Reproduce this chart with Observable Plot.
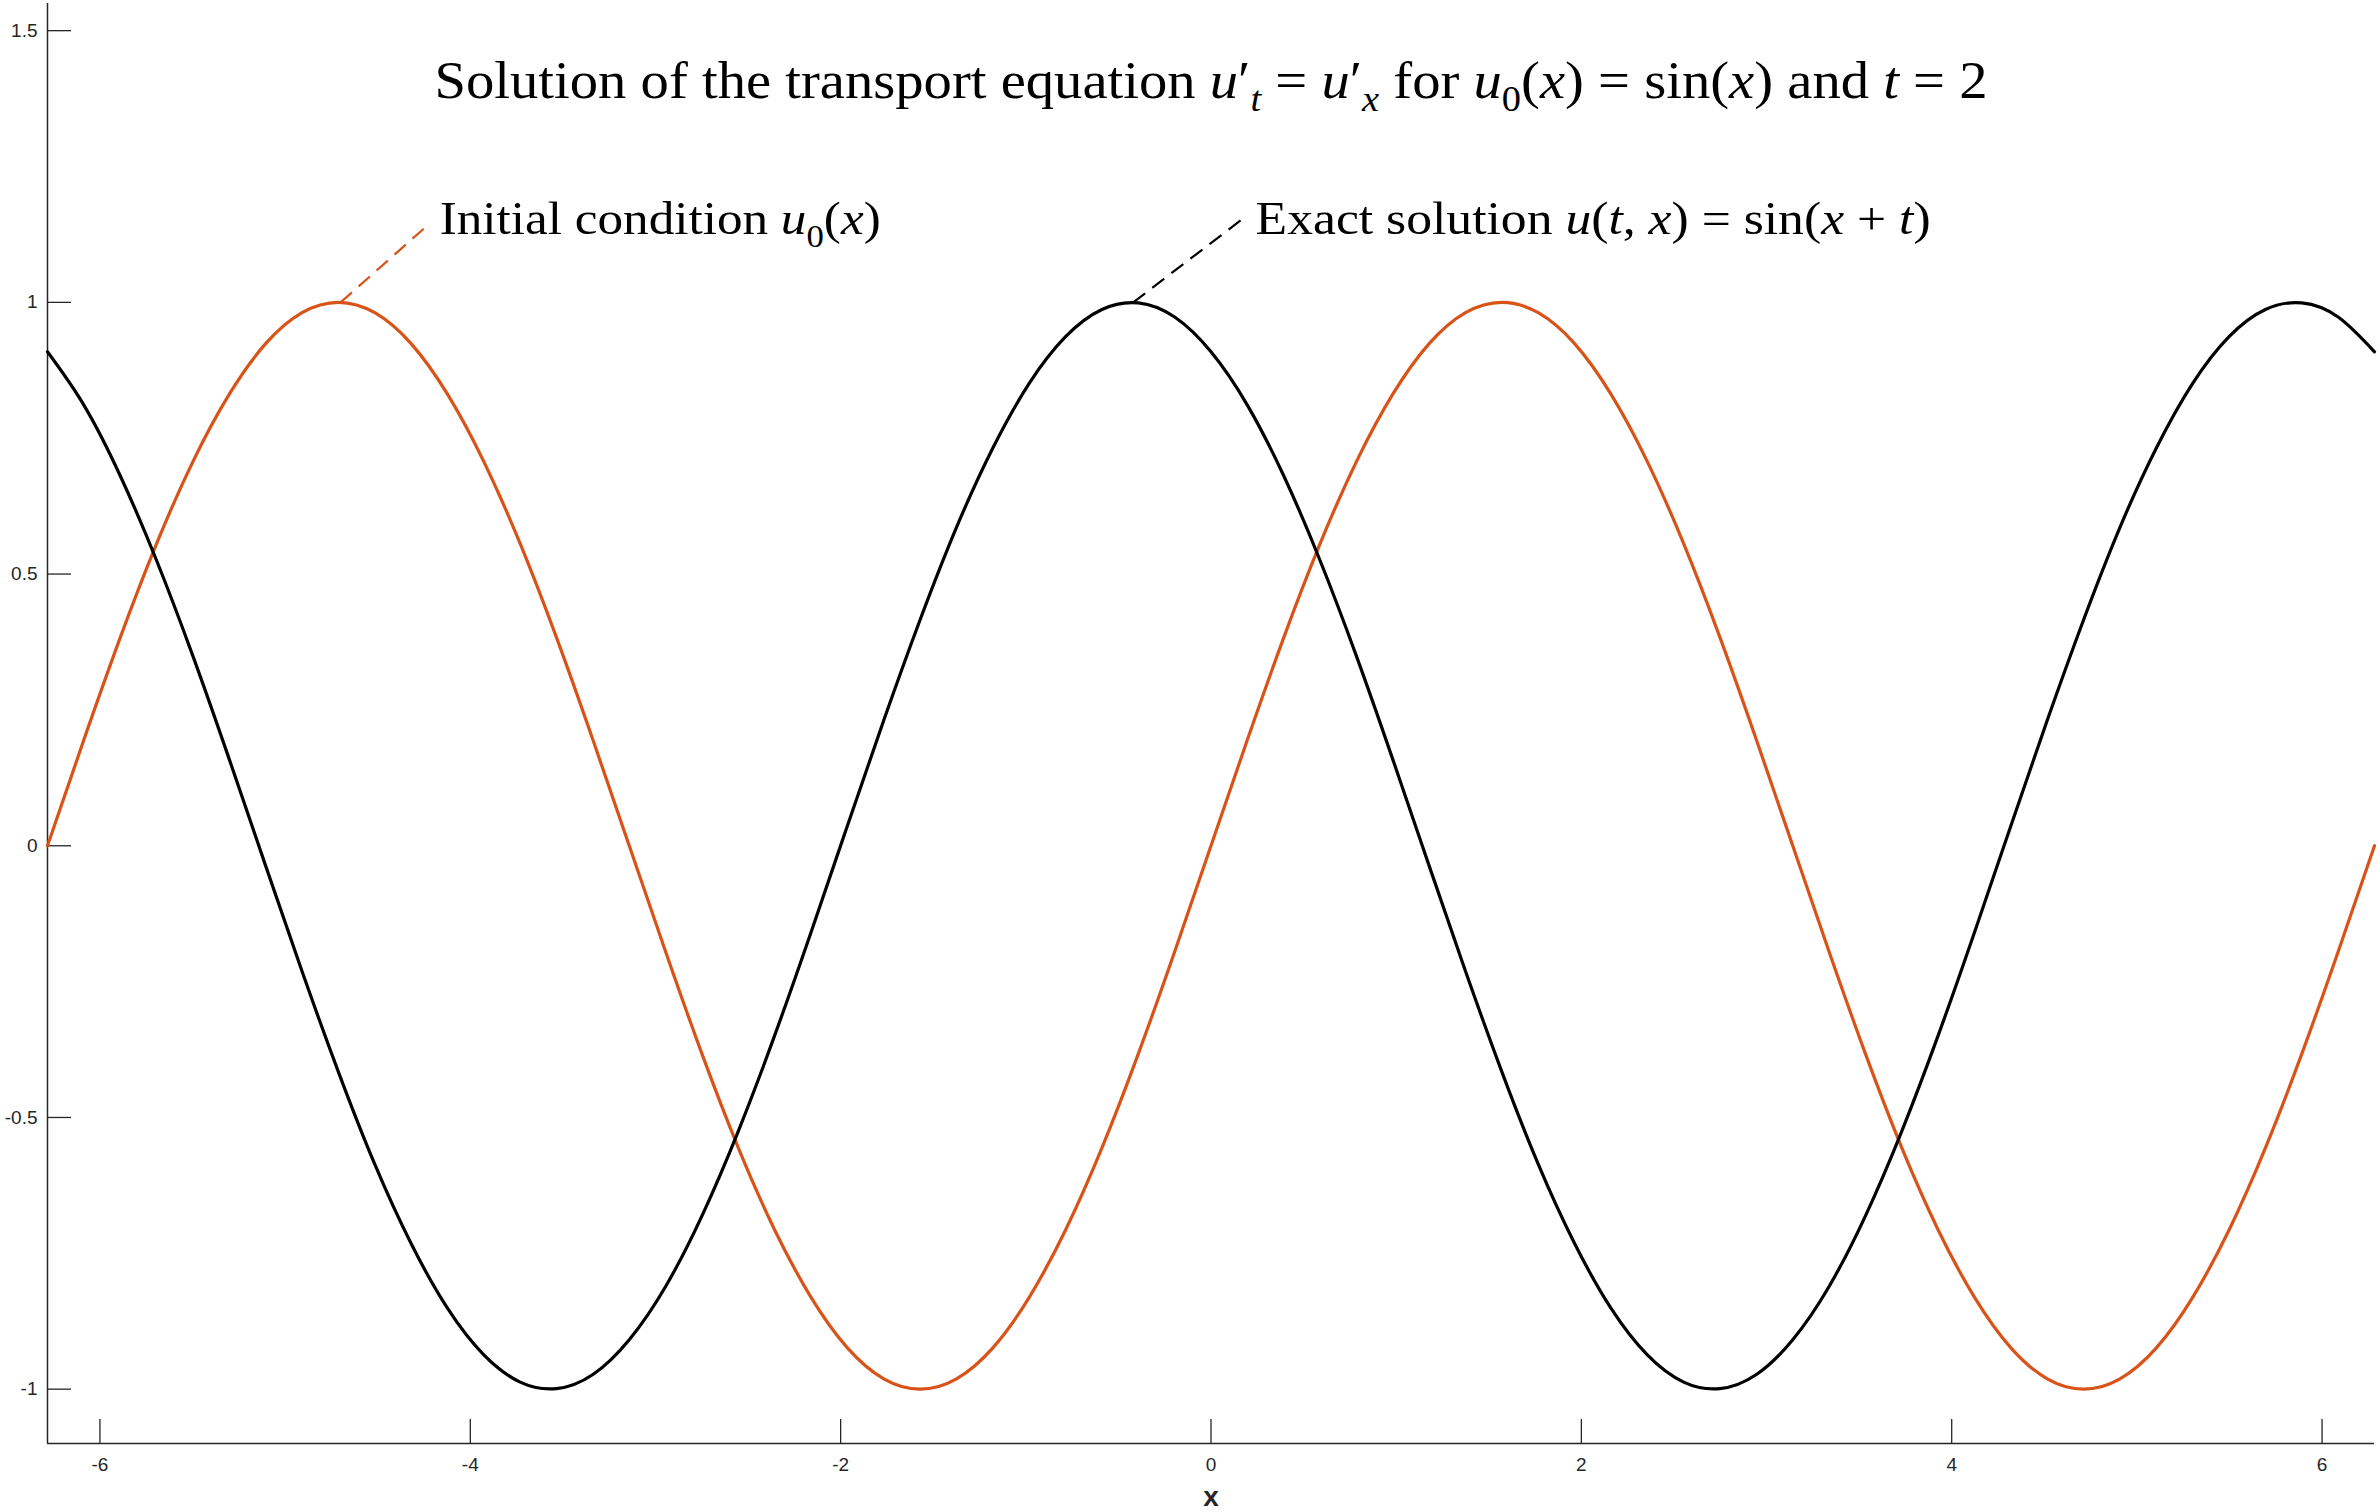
<!DOCTYPE html>
<html>
<head>
<meta charset="utf-8">
<script src="https://cdn.jsdelivr.net/npm/d3@7"></script>
<script src="https://cdn.jsdelivr.net/npm/@observablehq/plot@0.6"></script>
<style>
html, body { margin: 0; padding: 0; background: #fff; overflow: hidden; }
#chart svg { display: block; }
</style>
</head>
<body>
<div id="chart"></div>
<script>
// ---- data ----
const xValues = [-6.2832,-6.0868,-5.8905,-5.6941,-5.4978,-5.3014,-5.1051,-4.9087,-4.7124,-4.5160,-4.3197,-4.1233,-3.9270,-3.7306,-3.5343,-3.3379,-3.1416,-2.9452,-2.7489,-2.5525,-2.3562,-2.1598,-1.9635,-1.7671,-1.5708,-1.3744,-1.1781,-0.9817,-0.7854,-0.5890,-0.3927,-0.1963,0,0.1963,0.3927,0.5890,0.7854,0.9817,1.1781,1.3744,1.5708,1.7671,1.9635,2.1598,2.3562,2.5525,2.7489,2.9452,3.1416,3.3379,3.5343,3.7306,3.9270,4.1233,4.3197,4.5160,4.7124,4.9087,5.1051,5.3014,5.4978,5.6941,5.8905,6.0868,6.2832];
const initialValues = [0,0.195,0.383,0.556,0.707,0.831,0.924,0.981,1,0.981,0.924,0.831,0.707,0.556,0.383,0.195,0,-0.195,-0.383,-0.556,-0.707,-0.831,-0.924,-0.981,-1,-0.981,-0.924,-0.831,-0.707,-0.556,-0.383,-0.195,0,0.195,0.383,0.556,0.707,0.831,0.924,0.981,1,0.981,0.924,0.831,0.707,0.556,0.383,0.195,0,-0.195,-0.383,-0.556,-0.707,-0.831,-0.924,-0.981,-1,-0.981,-0.924,-0.831,-0.707,-0.556,-0.383,-0.195,0];
const exactValues = [0.909,0.811,0.681,0.525,0.349,0.159,-0.037,-0.231,-0.416,-0.586,-0.732,-0.851,-0.937,-0.987,-0.999,-0.973,-0.909,-0.811,-0.681,-0.525,-0.349,-0.159,0.037,0.231,0.416,0.586,0.732,0.851,0.937,0.987,0.999,0.973,0.909,0.811,0.681,0.525,0.349,0.159,-0.037,-0.231,-0.416,-0.586,-0.732,-0.851,-0.937,-0.987,-0.999,-0.973,-0.909,-0.811,-0.681,-0.525,-0.349,-0.159,0.037,0.231,0.416,0.586,0.732,0.851,0.937,0.987,0.999,0.973,0.909];
const xTicks = [-6, -4, -2, 0, 2, 4, 6];
const yTicks = [-1, -0.5, 0, 0.5, 1, 1.5];
const xDomain = [-6.2832, 6.2832];
const yDomain = [-1.1, 1.55];
const xLabel = "x";
const titleText = "Solution of the transport equation u′t = u′x for u0(x) = sin(x) and t = 2";
const labelTexts = ["Initial condition u0(x)", "Exact solution u(t, x) = sin(x + t)"];
// annotation arrows: from curve peak to label anchor (data units)
const annPeakX = [-4.70, -0.42];
const annPeakY = [1.0, 1.0];
const annTailX = [-4.23, 0.176];
const annTailY = [1.142, 1.155];
const annLabelY = [1.125, 1.125];

// ---- styles ----
const ORANGE = "#D95319";
const AXIS = "#262626";
const SERIF = "'Liberation Serif', 'Times New Roman', serif";

const initialRows = xValues.map((x, i) => ({x, y: initialValues[i]}));
const exactRows = xValues.map((x, i) => ({x, y: exactValues[i]}));

const chart = Plot.plot({
  width: 2377,
  height: 1512,
  marginLeft: 47,
  marginRight: 3,
  marginTop: 3,
  marginBottom: 69,
  x: {domain: xDomain},
  y: {domain: yDomain},
  style: {fontFamily: "'Liberation Sans', Arial, sans-serif", fontSize: "19px", color: AXIS, background: "#fff"},
  marks: [
    Plot.ruleX([xDomain[0]], {stroke: AXIS, strokeWidth: 1.5}),
    Plot.ruleY([yDomain[0]], {stroke: AXIS, strokeWidth: 1.5}),
    Plot.axisX(xTicks, {tickSize: -24, tickPadding: 38, tickFormat: d => String(d), label: null, color: AXIS, strokeWidth: 1.3, fontSize: 19}),
    Plot.axisY(yTicks, {tickSize: -24, tickPadding: 34, tickFormat: d => String(d), label: null, color: AXIS, strokeWidth: 1.3, fontSize: 19}),
    Plot.text([xLabel], {text: d => d, frameAnchor: "bottom", lineAnchor: "bottom", dy: 62, fontSize: 28, fontWeight: "bold", fill: AXIS}),
    Plot.line(initialRows, {x: "x", y: "y", stroke: ORANGE, strokeWidth: 3.2, curve: "natural"}),
    Plot.line(exactRows, {x: "x", y: "y", stroke: "#000", strokeWidth: 3.2, curve: "natural"}),
    Plot.link([0], {x1: i => annPeakX[i], y1: i => annPeakY[i], x2: i => annTailX[i], y2: i => annTailY[i], stroke: ORANGE, strokeWidth: 2.2, strokeDasharray: "15,9"}),
    Plot.link([1], {x1: i => annPeakX[i], y1: i => annPeakY[i], x2: i => annTailX[i], y2: i => annTailY[i], stroke: "#000", strokeWidth: 2.2, strokeDasharray: "15,9"}),
    Plot.text([0, 1], {x: i => annTailX[i], y: i => annLabelY[i], text: i => labelTexts[i], textAnchor: "start", lineAnchor: "bottom", dx: 12, fontSize: 47, fontFamily: SERIF, fill: "#000"}),
    Plot.text([titleText], {text: d => d, frameAnchor: "top", lineAnchor: "bottom", dy: 94, fontSize: 53, fontFamily: SERIF, fill: "#000"})
  ]
});

document.getElementById("chart").appendChild(chart);

// ---- rich text (italic math, subscripts) ----
function setRich(el, parts, fs, width) {
  const sel = d3.select(el);
  sel.text(null);
  let shift = 0;
  for (const p of parts) {
    const target = p.sub ? fs * 0.26 : 0;
    const ts = sel.append("tspan").text(p.t);
    if (p.i) ts.attr("font-style", "italic");
    if (p.sub) ts.attr("font-size", fs * 0.68);
    if (target !== shift) { ts.attr("dy", target - shift); shift = target; }
  }
  if (width) sel.attr("textLength", width).attr("lengthAdjust", "spacingAndGlyphs");
}
const I = true;
const rich = new Map([
  [titleText, {fs: 53, w: 1553, parts: [
    {t: "Solution of the transport equation "}, {t: "u", i: I}, {t: "′"}, {t: "t", i: I, sub: I},
    {t: " = "}, {t: "u", i: I}, {t: "′"}, {t: "x", i: I, sub: I},
    {t: " for "}, {t: "u", i: I}, {t: "0", sub: I}, {t: "("}, {t: "x", i: I}, {t: ") = sin("}, {t: "x", i: I},
    {t: ") and "}, {t: "t", i: I}, {t: " = 2"}
  ]}],
  [labelTexts[0], {fs: 47, w: 441, parts: [
    {t: "Initial condition "}, {t: "u", i: I}, {t: "0", sub: I}, {t: "("}, {t: "x", i: I}, {t: ")"}
  ]}],
  [labelTexts[1], {fs: 47, w: 675, parts: [
    {t: "Exact solution "}, {t: "u", i: I}, {t: "("}, {t: "t", i: I}, {t: ", "}, {t: "x", i: I},
    {t: ") = sin("}, {t: "x", i: I}, {t: " + "}, {t: "t", i: I}, {t: ")"}
  ]}]
]);
d3.select(chart).selectAll("text").each(function () {
  const spec = rich.get(this.textContent);
  if (spec) setRich(this, spec.parts, spec.fs, spec.w);
});
</script>
</body>
</html>
